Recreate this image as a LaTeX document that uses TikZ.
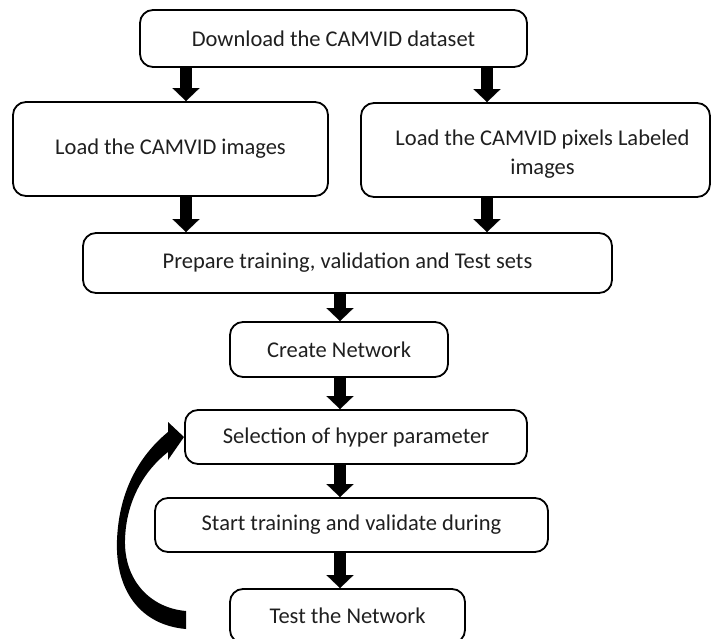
\documentclass[tikz,border=0pt]{standalone}
\usepackage{fontspec}
\setmainfont{Carlito}
\usetikzlibrary{arrows.meta}
\begin{document}
\begin{tikzpicture}[x=1pt,y=-1pt,
  box/.style={draw=black, line width=1.8pt, rounded corners=13pt, inner sep=0pt,
    align=center, font=\fontsize{22.5}{29}\selectfont, text=black!88},
  bigarrow/.style={line width=12pt, -{Triangle[width=27pt,length=13pt,line width=0.1pt]}}]
\useasboundingbox (0,0) rectangle (712,639);
\node[box, minimum width=387pt, minimum height=57pt] (dl) at (333.5,38.5) {Download the CAMVID dataset};
\node[box, minimum width=315pt, minimum height=94pt] (li) at (170.5,149) {Load the CAMVID images};
\node[box, minimum width=349pt, minimum height=94pt] (lp) at (535.5,150) {\rule{0pt}{24pt}\hspace*{14pt}Load the CAMVID pixels Labeled\\\hspace*{14pt}images};
\node[box, minimum width=529pt, minimum height=60pt] (pr) at (347.5,263) {Prepare training, validation and Test sets};
\node[box, minimum width=218pt, minimum height=55pt] (cn) at (339,349.5) {Create Network};
\node[box, minimum width=342pt, minimum height=54pt] (sel) at (356,437) {Selection of hyper parameter};
\node[box, minimum width=393pt, minimum height=54pt] (st) at (351.5,525) {Start training and validate during};
\node[box, minimum width=235pt, minimum height=54pt] (te) at (347.5,616) {Test the Network};
\coordinate (xa) at (186,0);
\coordinate (xb) at (487,0);
\coordinate (xc) at (340,0);
\draw[bigarrow] (dl.south -| xa) -- (li.north -| xa);
\draw[bigarrow] (dl.south -| xb) -- (lp.north -| xb);
\draw[bigarrow] (li.south -| xa) -- (pr.north -| xa);
\draw[bigarrow] (lp.south -| xb) -- (pr.north -| xb);
\draw[bigarrow] (pr.south -| xc) -- (cn.north -| xc);
\draw[bigarrow] (cn.south -| xc) -- (sel.north -| xc);
\draw[bigarrow] (sel.south -| xc) -- (st.north -| xc);
\draw[bigarrow] (st.south -| xc) -- (te.north -| xc);
% curved feedback arrow
\fill[black] (186,629) .. controls (140,625) and (115,590) .. (117,540)
  .. controls (119,490) and (140,455) .. (168,432)
  -- (168,422) -- (184,437) -- (168,460) -- (168,452)
  .. controls (145,470) and (126,500) .. (125,540)
  .. controls (124,580) and (150,608) .. (186,611) -- cycle;
\end{tikzpicture}
\end{document}
